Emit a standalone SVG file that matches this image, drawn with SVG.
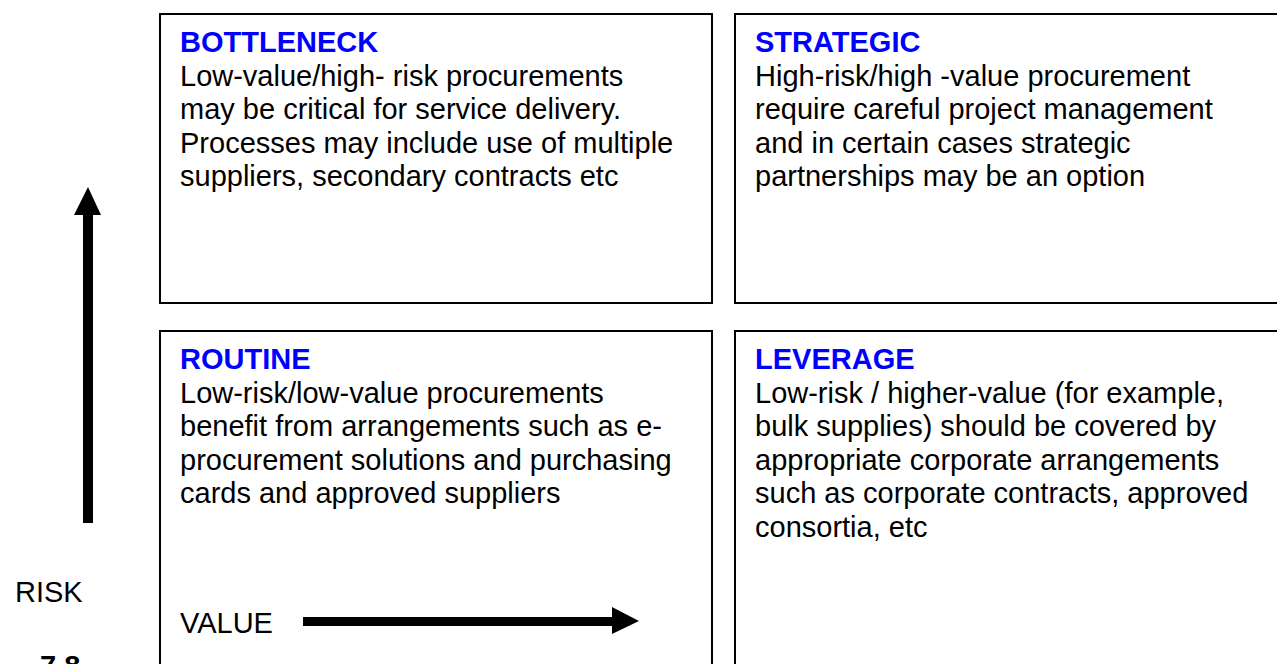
<svg xmlns="http://www.w3.org/2000/svg" width="1277" height="664" viewBox="0 0 1277 664">
<style>
.box{fill:#fff;stroke:#000;stroke-width:2}
text{font-family:"Liberation Sans",Arial,sans-serif;font-size:29px;fill:#000}
.h{font-weight:bold;fill:#0000ff}
.b{font-weight:bold}
</style>
<rect width="1277" height="664" fill="#fff"/>
<g id="bottleneck">
<rect class="box" x="160" y="14" width="552" height="289"/>
<text class="h" x="180" y="52">BOTTLENECK</text>
<text x="180" y="85.5">Low-value/high- risk procurements</text>
<text x="180" y="119">may be critical for service delivery.</text>
<text x="180" y="152.5">Processes may include use of multiple</text>
<text x="180" y="186">suppliers, secondary contracts etc</text>
</g>
<g id="strategic">
<rect class="box" x="735" y="14" width="600" height="289"/>
<text class="h" x="755" y="52">STRATEGIC</text>
<text x="755" y="85.5">High-risk/high -value procurement</text>
<text x="755" y="119">require careful project management</text>
<text x="755" y="152.5">and in certain cases strategic</text>
<text x="755" y="186">partnerships may be an option</text>
</g>
<g id="routine">
<rect class="box" x="160" y="331" width="552" height="400"/>
<text class="h" x="180" y="369">ROUTINE</text>
<text x="180" y="402.5">Low-risk/low-value procurements</text>
<text x="180" y="436">benefit from arrangements such as e-</text>
<text x="180" y="469.5">procurement solutions and purchasing</text>
<text x="180" y="503">cards and approved suppliers</text>
</g>
<g id="leverage">
<rect class="box" x="735" y="331" width="600" height="400"/>
<text class="h" x="755" y="369">LEVERAGE</text>
<text x="755" y="402.5">Low-risk / higher-value (for example,</text>
<text x="755" y="436">bulk supplies) should be covered by</text>
<text x="755" y="469.5">appropriate corporate arrangements</text>
<text x="755" y="503">such as corporate contracts, approved</text>
<text x="755" y="536.5">consortia, etc</text>
</g>
<g id="connectors">
<polygon points="83,523 93,523 93,215 101,215 88,187 74,215 83,215" fill="#000"/>
<polygon points="303,617 612,617 612,607 639,621 612,634 612,626 303,626" fill="#000"/>
</g>
<g id="labels">
<text x="15" y="602">RISK</text>
<text x="180" y="633">VALUE</text>
<text class="b" x="40" y="676">7.8</text>
</g>
</svg>
